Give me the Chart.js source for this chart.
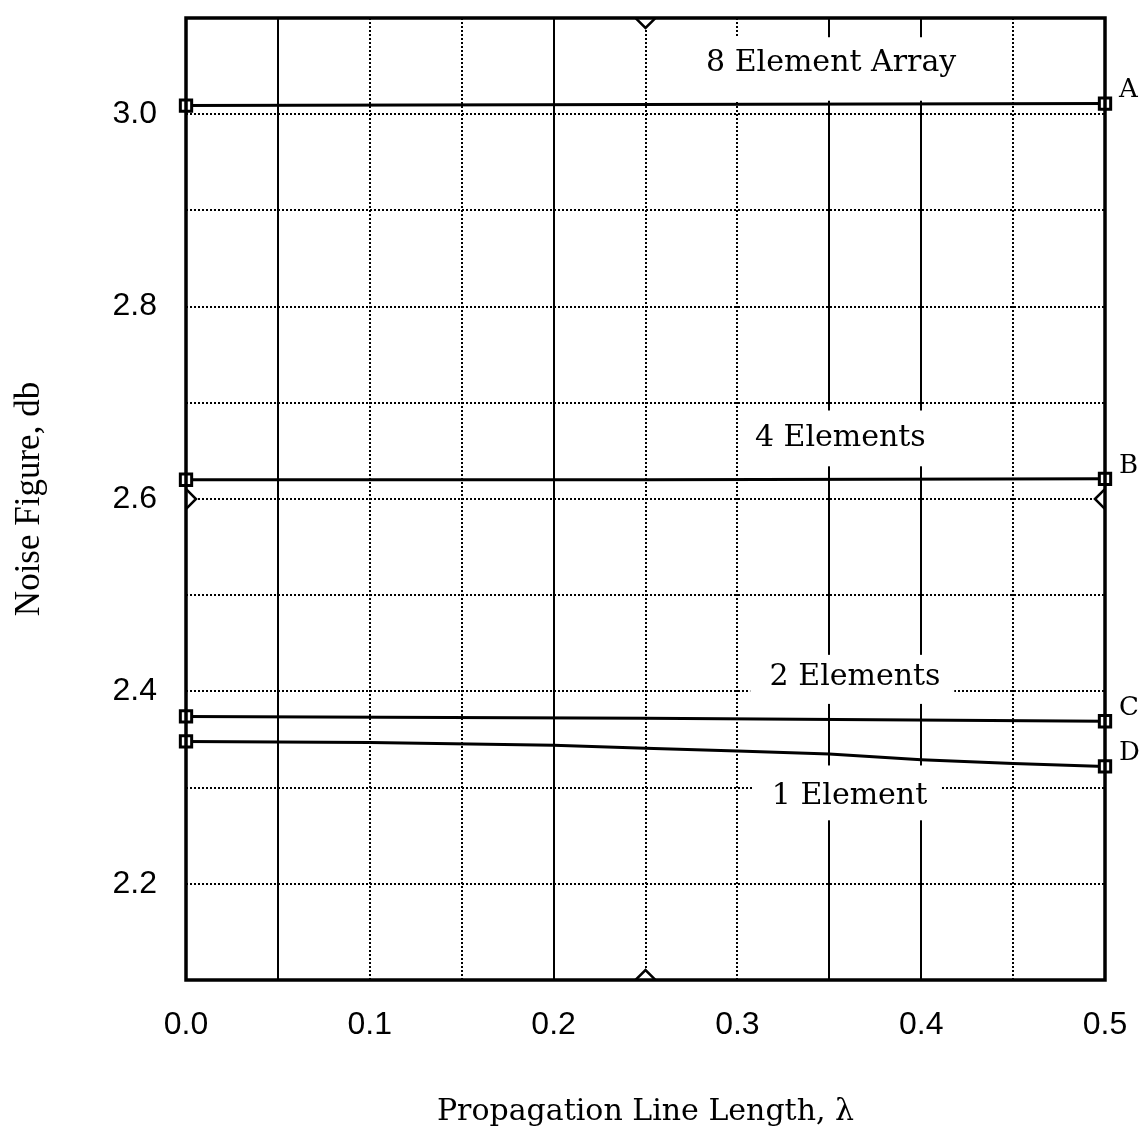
<!DOCTYPE html>
<html><head><meta charset="utf-8">
<script src="https://cdn.jsdelivr.net/npm/chart.js@4/dist/chart.umd.min.js"></script>
<style>html,body{margin:0;padding:0;background:#fff;}#wrap{width:1142px;height:1133px;}</style>
</head><body><div id="wrap"><canvas id="c" width="1142" height="1133"></canvas></div>
<script>
// ---- data ----
const xABC = [0, 0.25, 0.5];
const seriesA = [3.009, 3.010, 3.011];   // 8 Element Array
const seriesB = [2.620, 2.620, 2.621];   // 4 Elements
const seriesC = [2.374, 2.372, 2.369];   // 2 Elements
const xD = [0, 0.1, 0.2, 0.25, 0.3, 0.35, 0.4, 0.45, 0.5];
const seriesD = [2.348, 2.347, 2.344, 2.341, 2.338, 2.335, 2.329, 2.325, 2.322]; // 1 Element
const diamondX = [0.25, 0.25, 0, 0.5];
const diamondY = [3.1, 2.1, 2.6, 2.6];
const endLetters = ['A', 'B', 'C', 'D'];
const curveNames = ['8 Element Array', '4 Elements', '2 Elements', '1 Element'];
const xTickValues = [0, 0.1, 0.2, 0.3, 0.4, 0.5];
const yTickValues = [2.2, 2.4, 2.6, 2.8, 3.0];
const xGridValues = [0.05, 0.1, 0.15, 0.2, 0.25, 0.3, 0.35, 0.4, 0.45];
const xGridSolid = [true, false, false, true, false, false, true, true, false];
const yGridValues = [2.2, 2.3, 2.4, 2.5, 2.6, 2.7, 2.8, 2.9, 3.0];

// ---- annotation layout (data coords) ----
const labelBoxes = [
  {tx: 0.351, ty: 3.053, x0: 0.258, x1: 0.448, y0: 3.080, y1: 3.014},
  {tx: 0.356, ty: 2.663, x0: 0.301, x1: 0.446, y0: 2.692, y1: 2.634},
  {tx: 0.364, ty: 2.415, x0: 0.307, x1: 0.418, y0: 2.438, y1: 2.387},
  {tx: 0.361, ty: 2.291, x0: 0.308, x1: 0.411, y0: 2.323, y1: 2.266}
];

const pts = (xs, ys) => xs.map((x, i) => ({x, y: ys[i]}));
const endRadius = (n) => Array.from({length: n}, (_, i) => (i === 0 || i === n - 1) ? 8 : 0);

function lineDs(label, xs, ys) {
  return {
    label, data: pts(xs, ys), showLine: true, borderColor: '#000', borderWidth: 3,
    pointStyle: 'rect', pointRadius: endRadius(xs.length), pointBorderWidth: 3,
    pointBackgroundColor: '#fff', pointBorderColor: '#000', tension: 0, clip: false
  };
}

const SERIF = '"DejaVu Serif", serif';
const SANS = '"Liberation Sans", Arial, sans-serif';

const paperPlugin = {
  id: 'paper',
  beforeDatasetsDraw(chart) {
    const {ctx, chartArea: a, scales: {x, y}} = chart;
    ctx.save();
    ctx.strokeStyle = '#000';
    ctx.lineWidth = 2;
    ctx.setLineDash([2, 2]);
    yGridValues.forEach(v => {
      const py = Math.round(y.getPixelForValue(v));
      ctx.beginPath(); ctx.moveTo(a.left, py); ctx.lineTo(a.right, py); ctx.stroke();
    });
    xGridValues.forEach((v, i) => {
      const px = Math.round(x.getPixelForValue(v));
      ctx.setLineDash(xGridSolid[i] ? [] : [2, 2]);
      ctx.lineWidth = 2;
      ctx.beginPath(); ctx.moveTo(px, a.top); ctx.lineTo(px, a.bottom); ctx.stroke();
    });
    ctx.setLineDash([]);
    ctx.font = '30px ' + SERIF;
    ctx.textAlign = 'center';
    ctx.textBaseline = 'middle';
    labelBoxes.forEach((b, i) => {
      const l = x.getPixelForValue(b.x0), r = x.getPixelForValue(b.x1);
      const t = y.getPixelForValue(b.y0), btm = y.getPixelForValue(b.y1);
      ctx.fillStyle = '#fff';
      ctx.fillRect(l, t, r - l, btm - t);
      ctx.fillStyle = '#000';
      ctx.fillText(curveNames[i], x.getPixelForValue(b.tx), y.getPixelForValue(b.ty));
    });
    ctx.restore();
  },
  afterDatasetsDraw(chart) {
    const {ctx, chartArea: a, scales: {x, y}} = chart;
    ctx.save();
    ctx.strokeStyle = '#000';
    ctx.lineWidth = 3.5;
    ctx.strokeRect(a.left, a.top, a.right - a.left, a.bottom - a.top);
    ctx.font = '26px ' + SERIF;
    ctx.fillStyle = '#000';
    ctx.textAlign = 'left';
    ctx.textBaseline = 'middle';
    const lastY = [seriesA, seriesB, seriesC, seriesD].map(s => s[s.length - 1]);
    lastY.forEach((v, i) => {
      ctx.fillText(endLetters[i], x.getPixelForValue(0.5) + 14, y.getPixelForValue(v) - 13);
    });
    ctx.restore();
  }
};

new Chart(document.getElementById('c'), {
  type: 'scatter',
  data: {
    datasets: [
      lineDs('A', xABC, seriesA),
      lineDs('B', xABC, seriesB),
      lineDs('C', xABC, seriesC),
      lineDs('D', xD, seriesD),
      {
        label: 'diamonds', data: pts(diamondX, diamondY), showLine: false,
        pointStyle: 'rectRot', pointRadius: 10, pointBorderWidth: 2.5,
        pointBackgroundColor: '#fff', pointBorderColor: '#000'
      }
    ]
  },
  options: {
    responsive: false,
    animation: false,
    devicePixelRatio: 1,
    layout: {padding: {top: 18, right: 37, left: 0, bottom: 0}},
    plugins: {legend: {display: false}, tooltip: {enabled: false}},
    scales: {
      x: {
        type: 'linear', min: 0, max: 0.5,
        grid: {display: false, drawTicks: false},
        border: {display: false},
        afterBuildTicks: s => { s.ticks = xTickValues.map(v => ({value: v})); },
        afterFit: s => { s.height = 153; s.paddingLeft = 0; s.paddingRight = 0; },
        ticks: {
          padding: 26, color: '#000', maxRotation: 0, autoSkip: false,
          font: {family: SANS, size: 32},
          callback: v => Number(v).toFixed(1)
        },
        title: {
          display: true, text: 'Propagation Line Length, λ', color: '#000',
          font: {family: SERIF, size: 30}, padding: {top: 0, bottom: 3}
        }
      },
      y: {
        type: 'linear', min: 2.1, max: 3.1,
        grid: {display: false, drawTicks: false},
        border: {display: false},
        afterBuildTicks: s => { s.ticks = yTickValues.map(v => ({value: v})); },
        afterFit: s => { s.width = 186; s.paddingTop = 0; s.paddingBottom = 0; },
        ticks: {
          padding: 29, color: '#000',
          font: {family: SANS, size: 32},
          callback: v => Number(v).toFixed(1)
        },
        title: {
          display: true, text: 'Noise Figure, db', color: '#000',
          font: {family: '"Liberation Serif", serif', size: 35}, padding: {top: 9, bottom: 0}
        }
      }
    }
  },
  plugins: [paperPlugin]
});
</script>
</body></html>
